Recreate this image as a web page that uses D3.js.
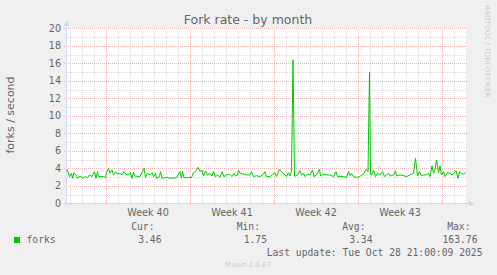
<!DOCTYPE html>
<html>
<head>
<meta charset="utf-8">
<script src="https://cdn.jsdelivr.net/npm/d3@7"></script>
<style>
  body { margin: 0; background: #f0f0f0; }
  svg { display: block; }
  text { font-family: "DejaVu Sans", sans-serif; fill: #666; }
  .mono { font-family: "DejaVu Sans Mono", monospace; }
</style>
</head>
<body>
<svg width="497" height="275"></svg>
<script>
var svg = d3.select("svg");

// window: 400 samples of 2 hours, last update Tue Oct 28 2025
var start = Date.UTC(2025, 8, 25, 18);
var end = start + 800 * 3600e3;

// hours since start of window, and fork rate (forks / second)
var hours = [0, 5, 9, 11, 14, 18, 21, 26, 31, 37, 41, 45, 50, 55, 58, 61, 63, 73, 77, 79,
    83, 86, 90, 93, 97, 101, 106, 110, 114, 118, 122, 127, 130, 133, 135, 146, 154, 157, 161, 166,
    170, 173, 177, 179, 185, 187, 190, 199, 206, 219, 226, 229, 231, 234, 249, 253, 258, 262, 266, 270,
    273, 277, 281, 286, 290, 293, 297, 301, 306, 310, 314, 319, 325, 330, 334, 337, 341, 343, 346, 353,
    359, 366, 369, 373, 379, 386, 393, 396, 399, 406, 416, 419, 425, 429, 436, 439, 443, 446, 449, 452,
    455, 457, 461, 466, 469, 473, 476, 481, 486, 491, 494, 499, 505, 507, 513, 519, 526, 533, 538, 541,
    546, 553, 559, 563, 566, 569, 573, 579, 585, 590, 594, 598, 602, 605, 607, 609, 613, 617, 621, 626,
    631, 635, 639, 643, 647, 653, 657, 659, 666, 673, 679, 686, 693, 697, 701, 705, 709, 713, 718, 723,
    726, 730, 733, 736, 739, 743, 746, 749, 753, 756, 761, 766, 770, 774, 778, 782, 785, 789, 793, 797];
var forks = [3.92, 3.05, 3.43, 2.86, 3.50, 3.24, 2.86, 3.12, 2.86, 3.05, 2.93, 3.24, 3.05, 3.62, 2.86, 3.62, 3.05, 3.05, 2.93, 3.50,
    4.00, 3.43, 3.81, 3.24, 3.62, 3.35, 3.43, 3.24, 3.62, 3.31, 3.24, 3.50, 2.86, 3.58, 3.12, 3.05, 4.00, 2.97, 3.43, 3.24,
    3.50, 3.05, 3.43, 2.86, 3.05, 3.62, 2.86, 2.97, 2.86, 2.93, 3.62, 2.86, 3.62, 2.93, 2.93, 3.50, 3.70, 4.11, 3.62, 3.81,
    3.12, 3.70, 3.24, 3.43, 3.12, 3.62, 3.05, 3.24, 2.97, 3.62, 3.05, 3.24, 3.35, 3.05, 3.43, 3.12, 3.24, 3.81, 3.43, 3.35,
    3.24, 3.24, 3.62, 3.05, 3.16, 3.05, 3.35, 3.62, 3.05, 3.05, 3.50, 3.05, 3.89, 3.62, 3.24, 3.05, 3.50, 3.12, 3.62, 16.4,
    3.10, 3.12, 3.24, 3.73, 3.24, 3.43, 3.05, 3.35, 3.24, 3.81, 3.05, 3.24, 3.89, 3.12, 3.35, 3.24, 3.24, 3.05, 3.62, 3.05,
    3.05, 3.05, 2.97, 3.62, 3.16, 3.43, 3.05, 2.97, 3.05, 3.24, 3.43, 3.89, 3.62, 15.0, 3.30, 3.24, 3.81, 3.05, 3.43, 3.24,
    3.62, 3.05, 3.24, 3.43, 3.12, 3.24, 3.73, 3.12, 3.24, 3.16, 3.05, 3.24, 3.43, 5.14, 3.12, 3.62, 3.12, 3.24, 3.24, 3.43,
    3.05, 4.27, 3.43, 3.81, 4.95, 3.50, 4.27, 3.24, 3.62, 3.05, 3.50, 3.43, 3.24, 3.43, 3.73, 2.86, 3.62, 3.43, 3.35, 3.50];

var yTicks = [0, 2, 4, 6, 8, 10, 12, 14, 16, 18, 20];
var legendHead = ["Cur:", "Min:", "Avg:", "Max:"];
var legendVals = ["3.46", "1.75", "3.34", "163.76"];

var x = d3.scaleUtc().domain([start, end]).range([67, 467]);
var y = d3.scaleLinear().domain([0, 20]).range([203.3, 28.3]);

svg.append("rect").attr("width", 497).attr("height", 275).attr("fill", "#f0f0f0");
svg.append("rect")
    .attr("x", 67).attr("y", 28)
    .attr("width", 400).attr("height", 175.5)
    .attr("fill", "#fff");

// grid, minor then major
var minorCol = "#dadada", majorCol = "#f0b4b4";
var g = svg.append("g").attr("shape-rendering", "crispEdges");
d3.range(1, 20, 2).forEach(function(v) {
    g.append("line")
        .attr("x1", 65).attr("x2", 467)
        .attr("y1", Math.round(y(v)) + 0.5).attr("y2", Math.round(y(v)) + 0.5)
        .attr("stroke", minorCol).attr("stroke-dasharray", "1,1");
});
var days = d3.utcDay.range(new Date(start), new Date(end));
days.filter(function(d) { return d.getUTCDay() != 1; }).forEach(function(d) {
    g.append("line")
        .attr("x1", Math.round(x(d)) + 0.5).attr("x2", Math.round(x(d)) + 0.5)
        .attr("y1", 28).attr("y2", 205)
        .attr("stroke", minorCol).attr("stroke-dasharray", "1,1");
});
yTicks.forEach(function(v) {
    if (v == 0) return;
    g.append("line")
        .attr("x1", 64).attr("x2", 467)
        .attr("y1", Math.round(y(v)) + 0.5).attr("y2", Math.round(y(v)) + 0.5)
        .attr("stroke", majorCol).attr("stroke-dasharray", "1,1");
});
var mondays = d3.utcMonday.range(new Date(start), new Date(end));
mondays.forEach(function(d) {
    g.append("line")
        .attr("x1", Math.round(x(d)) + 0.5).attr("x2", Math.round(x(d)) + 0.5)
        .attr("y1", 28).attr("y2", 206)
        .attr("stroke", majorCol).attr("stroke-dasharray", "1,1");
});

// axes with arrows
var axisCol = "#cfd6f8";
svg.append("line").attr("x1", 64).attr("x2", 470).attr("y1", 203.5).attr("y2", 203.5)
    .attr("stroke", axisCol);
svg.append("line").attr("x1", 66.5).attr("x2", 66.5).attr("y1", 206).attr("y2", 24)
    .attr("stroke", axisCol);
svg.append("path").attr("d", "M469,200.5L474,203.5L469,206.5Z").attr("fill", axisCol);
svg.append("path").attr("d", "M63.5,26L66.5,21L69.5,26Z").attr("fill", axisCol);

// y labels
svg.selectAll(".ylab").data(yTicks).enter().append("text")
    .attr("class", "ylab")
    .attr("x", 61).attr("y", function(d) { return y(d) + 3.6; })
    .attr("text-anchor", "end")
    .style("font-size", "9.6px")
    .text(function(d) { return d; });

// week labels
mondays.forEach(function(d) {
    var mid = new Date(+d + 3.5 * 864e5);
    if (+mid > end) return;
    svg.append("text")
        .attr("x", x(mid)).attr("y", 216)
        .attr("text-anchor", "middle")
        .style("font-size", "9.6px")
        .text("Week " + d3.utcFormat("%V")(d));
});

// the series
var data = hours.map(function(h, i) { return { t: new Date(start + h * 3600e3), v: forks[i] }; });
svg.append("path")
    .datum(data)
    .attr("fill", "none")
    .attr("stroke", "#00cc00")
    .attr("stroke-width", 1)
    .attr("d", d3.line().x(function(d) { return x(d.t); }).y(function(d) { return y(d.v); }));

// titles
svg.append("text").attr("x", 248).attr("y", 23.5).attr("text-anchor", "middle")
    .style("font-size", "12.5px").text("Fork rate - by month");
svg.append("text")
    .attr("transform", "translate(14,115) rotate(-90)")
    .attr("text-anchor", "middle")
    .style("font-size", "11px").text("forks / second");
svg.append("text")
    .attr("transform", "translate(485,5) rotate(90)")
    .style("font-size", "7.2px").style("fill", "#cccccc")
    .text("RRDTOOL / TOBI OETIKER");

// legend
svg.append("rect").attr("x", 14).attr("y", 237).attr("width", 6).attr("height", 6)
    .attr("fill", "#00cc00");
svg.append("text").attr("class", "mono").attr("x", 26.5).attr("y", 243)
    .style("font-size", "9.7px").text("forks");
var colEnd = [154.5, 260, 365.5, 470.5];
var valEnd = [161.5, 267, 372.5, 477.5];
legendHead.forEach(function(h, i) {
    svg.append("text").attr("class", "mono").attr("x", colEnd[i]).attr("y", 230)
        .attr("text-anchor", "end").style("font-size", "9.7px").text(h);
    svg.append("text").attr("class", "mono").attr("x", valEnd[i]).attr("y", 243)
        .attr("text-anchor", "end").style("font-size", "9.7px").text(legendVals[i]);
});
svg.append("text").attr("class", "mono").attr("x", 482.5).attr("y", 255.5)
    .attr("text-anchor", "end").style("font-size", "9.7px")
    .text("Last update: Tue Oct 28 21:00:09 2025");
svg.append("text").attr("x", 248).attr("y", 267).attr("text-anchor", "middle")
    .style("font-size", "7px").style("fill", "#cccccc").text("Munin 2.0.67");
</script>
</body>
</html>
